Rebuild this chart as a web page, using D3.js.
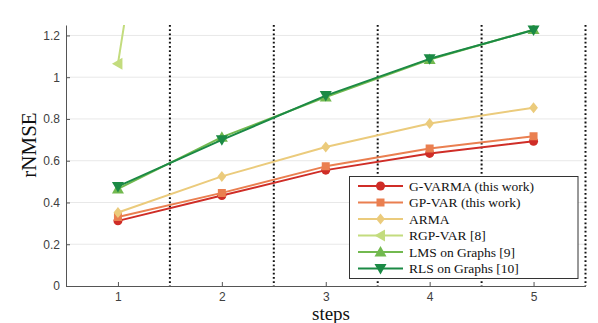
<!DOCTYPE html>
<html>
<head>
<meta charset="utf-8">
<script src="https://cdn.jsdelivr.net/npm/d3@7"></script>
<style>
  body { margin: 0; background: #fff; }
  svg { display: block; }
</style>
</head>
<body>
<svg></svg>
<script>
const steps = [1, 2, 3, 4, 5];
const gVarma = [0.312, 0.433, 0.555, 0.635, 0.693];
const gpVar = [0.330, 0.446, 0.573, 0.658, 0.717];
const arma = [0.352, 0.525, 0.666, 0.778, 0.854];
const rgpVar = [1.065, 4.2, 6.0, 7.5, 8.8];
const lms = [0.465, 0.713, 0.905, 1.085, 1.228];
const rls = [0.477, 0.700, 0.912, 1.088, 1.226];
const yTicks = [0, 0.2, 0.4, 0.6, 0.8, 1, 1.2];
const separators = [1.5, 2.5, 3.5, 4.5, 5.5];

const series = [
  { name: "G-VARMA (this work)", values: gVarma, color: "#cf2d27", symbol: d3.symbolCircle, size: 64 },
  { name: "GP-VAR (this work)", values: gpVar, color: "#ea7f50", symbol: d3.symbolSquare, size: 64 },
  { name: "ARMA", values: arma, color: "#ebcb7c", symbol: "diamond", size: 5.5 },
  { name: "RGP-VAR [8]", values: rgpVar, color: "#c3dc7e", symbol: "left", size: 6 },
  { name: "LMS on Graphs [9]", values: lms, color: "#72b94f", symbol: "up", size: 6 },
  { name: "RLS on Graphs [10]", values: rls, color: "#1b8a45", symbol: "down", size: 6 }
];

const serif = "'Liberation Serif', 'Times New Roman', serif";

const svgWidth = 598, svgHeight = 323;
const margin = { top: 25, right: 12.5, bottom: 37, left: 66 };
const width = svgWidth - margin.left - margin.right;
const height = svgHeight - margin.top - margin.bottom;

const svg = d3.select("svg")
  .attr("width", svgWidth)
  .attr("height", svgHeight);

const g = svg.append("g")
  .attr("transform", "translate(" + margin.left + "," + margin.top + ")");

const x = d3.scaleLinear().domain([0.5, 5.5]).range([0, width]);
const y = d3.scaleLinear().domain([0, 1.25]).range([height, 0]);

// marker path, custom triangles / diamond like matlab
function marker(sym, s) {
  if (typeof sym !== "string") return d3.symbol(sym, s)();
  if (sym === "diamond") return `M0,${-s}L${s * 0.8},0L0,${s}L${-s * 0.8},0Z`;
  if (sym === "up") return `M0,${-s}L${s},${s * 0.75}L${-s},${s * 0.75}Z`;
  if (sym === "down") return `M0,${s}L${s},${-s * 0.75}L${-s},${-s * 0.75}Z`;
  if (sym === "left") return `M${-s},0L${s * 0.75},${-s}L${s * 0.75},${s}Z`;
}

svg.append("defs").append("clipPath").attr("id", "plot")
  .append("rect").attr("x", 0).attr("y", 0).attr("width", width).attr("height", height);

// grid
g.append("g").selectAll("line")
  .data(yTicks.filter(d => d > 0))
  .join("line")
  .attr("x1", 0).attr("x2", width)
  .attr("y1", d => y(d)).attr("y2", d => y(d))
  .attr("stroke", "#e8e8e8")
  .attr("stroke-width", 1);

// axes
const yAxis = g.append("g")
  .call(d3.axisLeft(y).tickValues(yTicks).tickFormat(d3.format("~g")).tickSize(-4).tickSizeOuter(0).tickPadding(6));
const xAxis = g.append("g")
  .attr("transform", "translate(0," + height + ")")
  .call(d3.axisBottom(x).tickValues(steps).tickFormat(d3.format("d")).tickSize(-4).tickSizeOuter(0).tickPadding(6));

[yAxis, xAxis].forEach(a => {
  a.select(".domain").attr("stroke", "#555");
  a.selectAll(".tick line").attr("stroke", "#555");
  a.selectAll("text")
    .attr("fill", "#404040")
    .style("font-family", "'Liberation Sans', Arial, sans-serif")
    .style("font-size", "12px");
});

// dotted separators
g.append("g").selectAll("line")
  .data(separators)
  .join("line")
  .attr("x1", d => x(d)).attr("x2", d => x(d))
  .attr("y1", 0).attr("y2", height)
  .attr("stroke", "#111")
  .attr("stroke-width", 2)
  .attr("stroke-dasharray", "1.8,2.4");

const line = d3.line()
  .x((d, i) => x(steps[i]))
  .y(d => y(d));

const plot = g.append("g").attr("clip-path", "url(#plot)");

series.forEach(s => {
  plot.append("path")
    .datum(s.values)
    .attr("fill", "none")
    .attr("stroke", s.color)
    .attr("stroke-width", 2)
    .attr("stroke-linejoin", "round")
    .attr("d", line);
  plot.append("g").selectAll("path")
    .data(s.values)
    .join("path")
    .attr("transform", (d, i) => "translate(" + x(steps[i]) + "," + y(d) + ")")
    .attr("d", marker(s.symbol, s.size))
    .attr("fill", s.color);
});

// axis titles
svg.append("text")
  .attr("transform", "translate(36,145) rotate(-90)")
  .attr("text-anchor", "middle")
  .style("font-family", serif)
  .style("font-size", "21px")
  .attr("fill", "#111")
  .text("rNMSE");

svg.append("text")
  .attr("x", 331).attr("y", 320)
  .attr("text-anchor", "middle")
  .style("font-family", serif)
  .style("font-size", "19px")
  .attr("fill", "#111")
  .text("steps");

// legend
const legend = svg.append("g").attr("transform", "translate(349.5,176.5)");
legend.append("rect")
  .attr("width", 228.5).attr("height", 102)
  .attr("fill", "#fff")
  .attr("stroke", "#333")
  .attr("stroke-width", 1);

const rows = legend.selectAll("g.row")
  .data(series)
  .join("g")
  .attr("class", "row")
  .attr("transform", (d, i) => "translate(0," + (9.5 + i * 16.5) + ")");

rows.append("line")
  .attr("x1", 8.5).attr("x2", 53.5)
  .attr("stroke", d => d.color)
  .attr("stroke-width", 2);
rows.append("path")
  .attr("transform", "translate(31,0)")
  .attr("d", d => marker(d.symbol, d.size))
  .attr("fill", d => d.color);
rows.append("text")
  .attr("x", 59.5).attr("y", 0)
  .attr("dy", "0.35em")
  .style("font-family", serif)
  .style("font-size", "13.5px")
  .attr("fill", "#111")
  .text(d => d.name);
</script>
</body>
</html>
